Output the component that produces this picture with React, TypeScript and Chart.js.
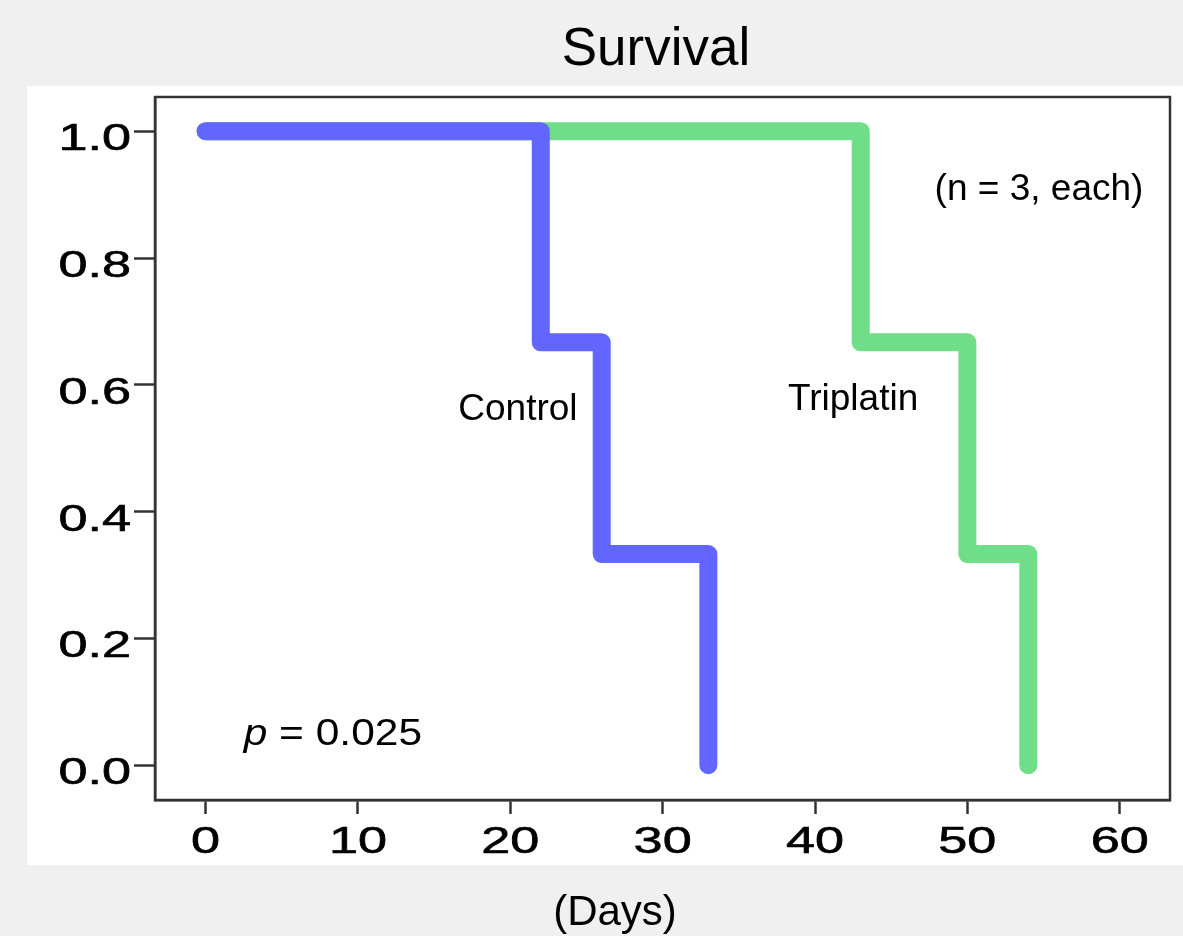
import { useEffect, useRef } from "react";
import { Chart, registerables } from "chart.js";

Chart.register(...registerables);

// Kaplan–Meier step data (days, survival fraction)
const controlDays = [0, 22, 26, 33];
const controlSurvival = [1.0, 0.667, 0.333, 0.0];
const triplatinDays = [0, 43, 50, 54];
const triplatinSurvival = [1.0, 0.667, 0.333, 0.0];

const xTicks = [0, 10, 20, 30, 40, 50, 60];
const yTicks = [0.0, 0.2, 0.4, 0.6, 0.8, 1.0];

const titleText = "Survival";
const xAxisLabel = "(Days)";
const seriesLabels = ["Control", "Triplatin"];
const seriesLabelX = [20.5, 42.5];
const seriesLabelY = [0.56, 0.577];
const noteText = "(n = 3, each)";
const noteX = 54.7;
const noteY = 0.907;
const pValueText = " = 0.025";
const pX = 2.5;
const pY = 0.047;

const blue = "rgb(98,102,255)";
const green = "rgb(112,221,136)";
const tickFont = '36px "Liberation Sans", Arial, sans-serif';
const tickStretch = 1.45;

export default function App() {
  const ref = useRef<HTMLCanvasElement | null>(null);

  useEffect(() => {
    const canvas = ref.current;
    if (!canvas) return;

    const decor = {
      id: "decor",
      beforeDraw(chart: any) {
        const ctx = chart.ctx;
        ctx.save();
        ctx.fillStyle = "#f0f0f0";
        ctx.fillRect(0, 0, chart.width, chart.height);
        ctx.fillStyle = "#ffffff";
        ctx.fillRect(27, 86, chart.width - 27, 779);
        ctx.restore();
      },
      afterDraw(chart: any) {
        const ctx = chart.ctx;
        const a = chart.chartArea;
        const xs = chart.scales.x;
        const ys = chart.scales.y;
        ctx.save();
        // frame
        ctx.strokeStyle = "#333";
        ctx.lineWidth = 2.5;
        ctx.strokeRect(a.left, a.top, a.right - a.left, a.bottom - a.top);

        // tick labels (wide, stretched like the original)
        ctx.fillStyle = "#000";
        ctx.strokeStyle = "#000";
        ctx.lineWidth = 0.6;
        ctx.font = tickFont;
        ctx.textBaseline = "alphabetic";
        ctx.textAlign = "right";
        for (const t of ys.ticks) {
          const y = ys.getPixelForValue(t.value);
          const s = Number(t.value).toFixed(1);
          ctx.save();
          ctx.translate(a.left - 24, y + 19);
          ctx.scale(tickStretch, 1);
          ctx.fillText(s, 0, 0);
          ctx.strokeText(s, 0, 0);
          ctx.restore();
        }
        ctx.textAlign = "center";
        for (const t of xs.ticks) {
          const x = xs.getPixelForValue(t.value);
          const s = String(t.value);
          ctx.save();
          ctx.translate(x, 853);
          ctx.scale(tickStretch, 1);
          ctx.fillText(s, 0, 0);
          ctx.strokeText(s, 0, 0);
          ctx.restore();
        }

        // title
        ctx.textAlign = "center";
        ctx.textBaseline = "alphabetic";
        ctx.font = '53px "Liberation Sans", Arial, sans-serif';
        ctx.fillText(titleText, 656, 65);
        // x axis title
        ctx.font = '42px "Liberation Sans", Arial, sans-serif';
        ctx.fillText(xAxisLabel, 615, 925);
        // series labels
        ctx.font = '37px "Liberation Sans", Arial, sans-serif';
        ctx.textBaseline = "middle";
        for (let i = 0; i < seriesLabels.length; i++) {
          ctx.fillText(
            seriesLabels[i],
            xs.getPixelForValue(seriesLabelX[i]),
            ys.getPixelForValue(seriesLabelY[i])
          );
        }
        ctx.fillText(noteText, xs.getPixelForValue(noteX), ys.getPixelForValue(noteY));
        // p value
        ctx.textAlign = "left";
        const px = xs.getPixelForValue(pX);
        const py = ys.getPixelForValue(pY);
        ctx.save();
        ctx.translate(px, py);
        ctx.scale(1.18, 1);
        ctx.font = 'italic 36px "Liberation Sans", Arial, sans-serif';
        ctx.fillText("p", 0, 0);
        const w = ctx.measureText("p").width;
        ctx.font = '36px "Liberation Sans", Arial, sans-serif';
        ctx.fillText(pValueText, w, 0);
        ctx.restore();
        ctx.restore();
      },
    };

    const chart = new Chart(canvas, {
      type: "line",
      data: {
        datasets: [
          {
            label: seriesLabels[0],
            data: controlDays.map((d, i) => ({ x: d, y: controlSurvival[i] })),
            borderColor: blue,
            backgroundColor: blue,
            borderWidth: 18,
            borderCapStyle: "round",
            borderJoinStyle: "round",
            stepped: "before",
            pointRadius: 0,
            fill: false,
          },
          {
            label: seriesLabels[1],
            data: triplatinDays.map((d, i) => ({ x: d, y: triplatinSurvival[i] })),
            borderColor: green,
            backgroundColor: green,
            borderWidth: 18,
            borderCapStyle: "round",
            borderJoinStyle: "round",
            stepped: "before",
            pointRadius: 0,
            fill: false,
          },
        ],
      },
      options: {
        responsive: false,
        animation: false,
        devicePixelRatio: 1,
        layout: { padding: { top: 97, right: 13, bottom: 71, left: 0 } },
        plugins: {
          legend: { display: false },
          title: { display: false },
          tooltip: { enabled: false },
        },
        scales: {
          x: {
            type: "linear",
            min: -3.32,
            max: 63.3,
            afterBuildTicks: (s: any) => {
              s.ticks = xTicks.map((v) => ({ value: v }));
            },
            afterFit: (s: any) => {
              s.height = 65;
            },
            grid: {
              drawOnChartArea: false,
              drawTicks: true,
              tickLength: 14,
              tickWidth: 2.5,
              tickColor: "#333",
            },
            border: { display: true, color: "#333", width: 2.5 },
            ticks: { display: false },
          },
          y: {
            type: "linear",
            min: -0.055,
            max: 1.054,
            afterBuildTicks: (s: any) => {
              s.ticks = yTicks.map((v) => ({ value: v }));
            },
            afterFit: (s: any) => {
              s.width = 155;
            },
            grid: {
              drawOnChartArea: false,
              drawTicks: true,
              tickLength: 21,
              tickWidth: 2.5,
              tickColor: "#333",
            },
            border: { display: true, color: "#333", width: 2.5 },
            ticks: { display: false },
          },
        },
      },
      plugins: [decor],
    });

    return () => chart.destroy();
  }, []);

  return (
    <div style={{ position: "fixed", left: 0, top: 0, width: 1183, height: 936 }}>
      <canvas ref={ref} width={1183} height={936} />
    </div>
  );
}
